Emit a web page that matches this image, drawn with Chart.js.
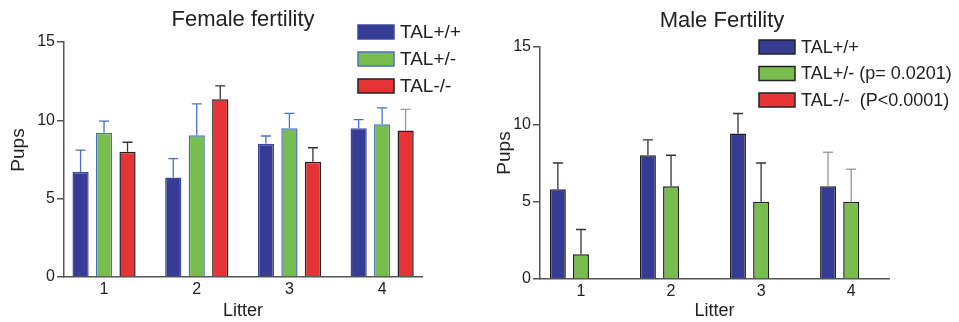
<!DOCTYPE html>
<html>
<head>
<meta charset="utf-8">
<script src="https://cdn.jsdelivr.net/npm/chart.js@4.4.1/dist/chart.umd.min.js"></script>
<style>
  html, body { margin: 0; padding: 0; background: #fff; }
  #wrap { position: relative; width: 959px; height: 322px; }
  .box { position: absolute; top: 0; height: 322px; }
</style>
</head>
<body>
<div id="wrap">
  <div class="box" style="left:0;width:480px"><canvas id="femaleChart"></canvas></div>
  <div class="box" style="left:480px;width:479px"><canvas id="maleChart"></canvas></div>
</div>
<script>
// data
const litters = [1, 2, 3, 4];
const groups = ['TAL+/+', 'TAL+/-', 'TAL-/-'];
const maleLegend = ['TAL+/+', 'TAL+/- (p= 0.0201)', 'TAL-/-  (P<0.0001)'];

const femaleWT = [6.7, 6.35, 8.5, 9.5];
const femaleHet = [9.2, 9.05, 9.5, 9.75];
const femaleKO = [8.0, 11.35, 7.35, 9.35];
const femaleWTErr = [1.4, 1.2, 0.5, 0.55];
const femaleHetErr = [0.75, 2.0, 0.95, 1.05];
const femaleKOErr = [0.6, 0.85, 0.9, 1.35];

const maleWT = [5.8, 8.0, 9.4, 6.0];
const maleHet = [1.6, 6.0, 5.0, 5.0];
const maleKO = [0, 0, 0, 0];
const maleWTErr = [1.7, 1.0, 1.3, 2.2];
const maleHetErr = [1.6, 2.0, 2.5, 2.1];
const maleKOErr = [0, 0, 0, 0];

const yTicks = [0, 5, 10, 15];

Chart.defaults.font.family = '"Liberation Sans", Arial, Helvetica, sans-serif';
Chart.defaults.color = '#222';

const BLUE = '#363c93';
const GREEN = '#7abd4f';
const RED = '#e63436';
const AXIS = '#555';
const FONT = '"Liberation Sans", Arial, sans-serif';

// error bars (upper only) + title + legend + y title
const extras = {
  id: 'extras',
  afterDatasetsDraw(chart, args, opts) {
    const ctx = chart.ctx;
    const y = chart.scales.y;
    ctx.save();
    opts.errors.forEach((errs, di) => {
      const meta = chart.getDatasetMeta(di);
      const vals = chart.data.datasets[di].data;
      meta.data.forEach((bar, j) => {
        if (!errs[j]) return;
        const top = y.getPixelForValue(vals[j].y + errs[j]);
        ctx.strokeStyle = opts.errColors[di][j];
        ctx.lineWidth = opts.errWidth[j] || 1.3;
        ctx.beginPath();
        ctx.moveTo(bar.x, bar.y);
        ctx.lineTo(bar.x, top);
        ctx.moveTo(bar.x - 5, top);
        ctx.lineTo(bar.x + 5, top);
        ctx.stroke();
      });
    });
    ctx.restore();
  },
  afterDraw(chart, args, opts) {
    const ctx = chart.ctx;
    ctx.save();
    ctx.fillStyle = '#222';
    ctx.textAlign = 'center';
    ctx.textBaseline = 'middle';
    ctx.font = '22px ' + FONT;
    ctx.fillText(opts.title, opts.titleX, opts.titleY);

    // y axis title
    ctx.save();
    ctx.font = '19px ' + FONT;
    ctx.translate(opts.yTitleX, opts.yTitleY);
    ctx.rotate(-Math.PI / 2);
    ctx.fillText('Pups', 0, 0);
    ctx.restore();

    ctx.font = opts.legendFont + 'px ' + FONT;
    ctx.textAlign = 'left';
    opts.legend.forEach((txt, i) => {
      const ds = chart.data.datasets[i];
      const cy = opts.legendY + i * opts.legendStep;
      ctx.fillStyle = ds.backgroundColor;
      ctx.fillRect(opts.legendX, cy - 7, 36, 14);
      ctx.strokeStyle = ds.borderColor;
      ctx.lineWidth = 1.5;
      ctx.strokeRect(opts.legendX, cy - 7, 36, 14);
      ctx.fillStyle = '#222';
      ctx.fillText(txt, opts.legendX + 42, cy + 1);
    });
    ctx.restore();
  }
};

function makeChart(id, series, borders, cfg) {
  const datasets = series.map((vals, i) => ({
    label: groups[i],
    data: vals.map((v, j) => ({ x: litters[j], y: v })),
    backgroundColor: [BLUE, GREEN, RED][i],
    borderColor: borders[i],
    borderWidth: 1.5,
    categoryPercentage: cfg.catPct,
    barPercentage: 0.69
  }));

  return new Chart(document.getElementById(id), {
    type: 'bar',
    data: { datasets },
    plugins: [extras],
    options: {
      responsive: true,
      maintainAspectRatio: false,
      animation: false,
      layout: { padding: { top: cfg.top, right: cfg.right, left: 0, bottom: 0 } },
      plugins: {
        legend: { display: false },
        tooltip: { enabled: false },
        extras: cfg.extras
      },
      scales: {
        x: {
          type: 'linear',
          offset: false,
          min: cfg.xMin,
          max: cfg.xMax,
          grid: { display: false, drawTicks: false, tickLength: 0, offset: false },
          border: { color: AXIS, width: 1.5 },
          ticks: {
            stepSize: 1,
            includeBounds: false,
            padding: 3,
            font: { size: 16 },
            callback: (v) => litters.includes(v) ? String(v) : ''
          },
          title: { display: true, text: 'Litter', font: { size: 18 }, padding: 0 },
          afterFit: (s) => { s.height = cfg.xHeight; }
        },
        y: {
          min: 0,
          max: 15,
          afterBuildTicks: (s) => { s.ticks = yTicks.map(v => ({ value: v })); },
          grid: { drawOnChartArea: false, tickLength: 7, color: AXIS, lineWidth: 1.5 },
          border: { color: AXIS, width: 1.5 },
          ticks: { padding: 2, font: { size: 16 } },
          afterFit: (s) => { s.width = cfg.yWidth; }
        }
      }
    }
  });
}

makeChart('femaleChart',
  [femaleWT, femaleHet, femaleKO],
  ['#3a4a9e', '#4a6fc8', '#222'],
  {
    top: 42, right: 58, xHeight: 45, yWidth: 64,
    xMin: 0.568, xMax: 4.43, catPct: 0.76,
    extras: {
      title: 'Female fertility', titleX: 243, titleY: 20,
      yTitleX: 19, yTitleY: 150,
      legend: groups, legendX: 358, legendY: 32, legendStep: 27, legendFont: 19,
      errors: [femaleWTErr, femaleHetErr, femaleKOErr],
      errColors: [
        ['#4a6fc8', '#4a6fc8', '#4a6fc8', '#4a6fc8'],
        ['#4a6fc8', '#4a6fc8', '#4a6fc8', '#4a6fc8'],
        ['#333', '#333', '#333', '#999']
      ],
      errWidth: [1.3, 1.3, 1.3, 1.3]
    }
  });

makeChart('maleChart',
  [maleWT, maleHet, maleKO],
  ['#222', '#222', '#222'],
  {
    top: 47, right: 70, xHeight: 43, yWidth: 60,
    xMin: 0.545, xMax: 4.42, catPct: 0.77,
    extras: {
      title: 'Male Fertility', titleX: 242, titleY: 21,
      yTitleX: 25, yTitleY: 153,
      legend: maleLegend, legendX: 279, legendY: 47, legendStep: 26.5, legendFont: 18,
      errors: [maleWTErr, maleHetErr, maleKOErr],
      errColors: [
        ['#333', '#333', '#333', '#777'],
        ['#333', '#333', '#333', '#777'],
        ['#333', '#333', '#333', '#333']
      ],
      errWidth: [1.3, 1.3, 1.3, 1]
    }
  });
</script>
</body>
</html>
